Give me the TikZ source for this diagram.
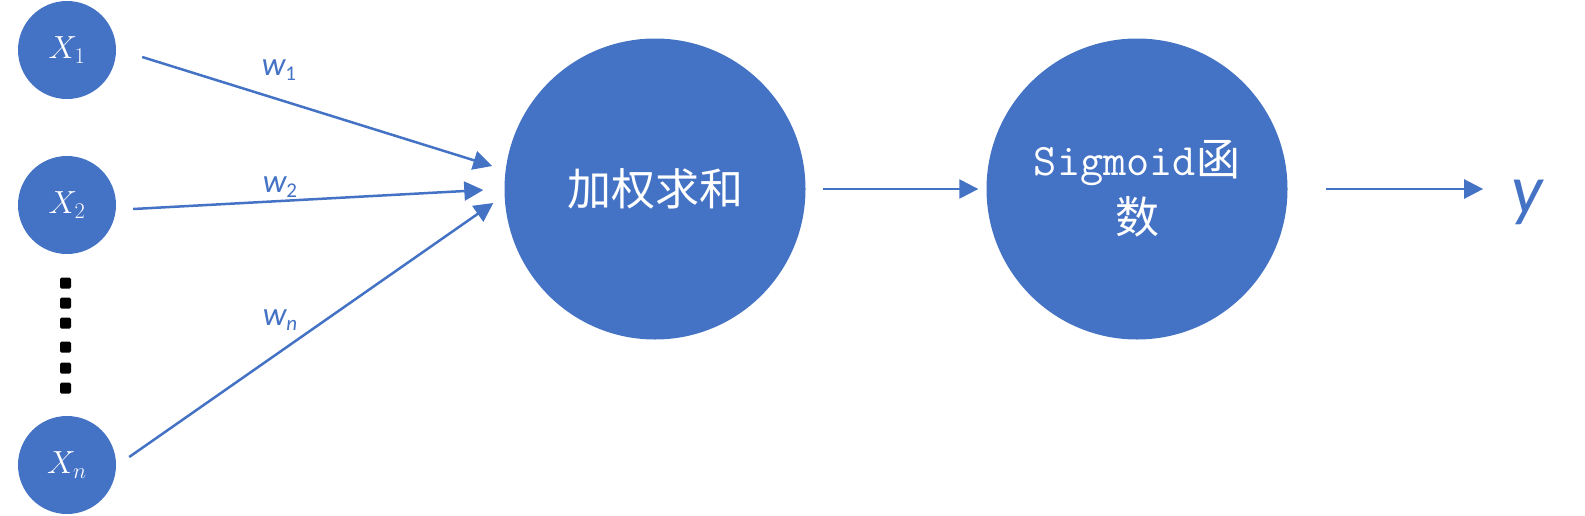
\RequirePackage{fix-cm}
\documentclass[tikz,border=0pt]{standalone}
\usepackage{fontspec}
\usepackage{xcolor}
\usepackage{tikz}
\usetikzlibrary{arrows.meta}
\newfontfamily\cjk{Noto Sans CJK SC}
\newfontfamily\wfont{Carlito}
\definecolor{nodeblue}{HTML}{4472C4}
\newcommand{\wgt}[1]{{\itshape w}\raisebox{-5pt}{\fontsize{21}{24}\selectfont #1}}

\begin{document}
\begin{tikzpicture}[x=1pt,y=-1pt,
    >={Triangle[length=19pt,width=19pt]},
    inputnode/.style={circle,fill=nodeblue,minimum size=98pt,inner sep=0pt,text=white,font=\fontsize{32}{38}\selectfont},
    bignode/.style={circle,fill=nodeblue,minimum size=301pt,inner sep=0pt,text=white,align=center,font=\cjk\fontsize{44}{58}\selectfont},
    wlabel/.style={text=nodeblue,inner sep=0pt,font=\wfont\fontsize{33}{38}\selectfont},
    dotsq/.style={fill=black,minimum size=11pt,inner sep=0pt,rounded corners=1.5pt},
    conn/.style={->,draw=nodeblue,line width=2.5pt}]
    \useasboundingbox (0,0) rectangle (1585,515);
    % inputs
    \node[inputnode] (x1) at (67,50) {$X_1$};
    \node[inputnode] (x2) at (67,205) {$X_2$};
    \node[inputnode] (xn) at (67,465) {$X_n$};
    \foreach \i/\yy in {0/283,1/303,2/323,3/347,4/368,5/388}
      \node[dotsq] (dot\i) at (65.5,\yy) {};
    % sum and activation
    \node[bignode] (sum) at (655,189) {加权求和};
    \node[bignode] (sig) at (1137,189) {{\ttfamily\fontsize{45}{58}\selectfont Sigmoid}函\\数};
    \node[text=nodeblue,inner sep=0pt,font=\wfont\itshape\fontsize{70}{80}\selectfont] (yout) at (1527,202) {y};
    % weights
    \node[wlabel] (w1) at (279,70) {\wgt{1}};
    \node[wlabel] (w2) at (280,187) {\wgt{2}};
    \node[wlabel] (wn) at (280,320) {\wgt{\itshape n}};
    \draw[conn] ([shift={(26,7)}]x1.east) -- ([shift={(-12,-23)}]sum.west);
    \draw[conn] ([shift={(17,4)}]x2.east) -- ([shift={(-21,1)}]sum.west);
    \draw[conn] ([shift={(13,-8)}]xn.east) -- ([shift={(-11,14)}]sum.west);
    \draw[conn] ([xshift=17pt]sum.east) -- ([xshift=-8pt]sig.west);
    \draw[conn,shorten <=38pt,shorten >=28pt] (sig.east) -- (sig.east -| yout.west);
\end{tikzpicture}
\end{document}
